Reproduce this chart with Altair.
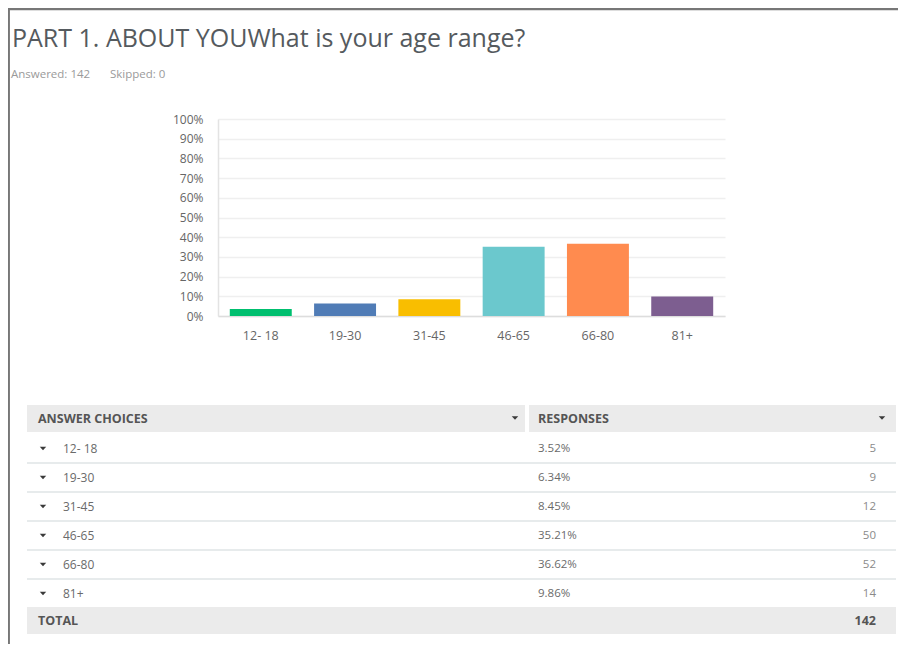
import altair as alt
import pandas as pd

# ---------------- data ----------------
title_text = "PART 1. ABOUT YOUWhat is your age range?"
answered = 142
skipped = 0
ages = ["12- 18", "19-30", "31-45", "46-65", "66-80", "81+"]
percents = [3.52, 6.34, 8.45, 35.21, 36.62, 9.86]
counts = [5, 9, 12, 50, 52, 14]
total = 142
colors = ["#00bf6f", "#507cb6", "#f9be00", "#6bc8cd", "#ff8b4f", "#7d5e90"]
y_ticks = [0, 0.1, 0.2, 0.3, 0.4, 0.5, 0.6, 0.7, 0.8, 0.9, 1.0]
col_headers = ["ANSWER CHOICES", "RESPONSES"]
total_label = "TOTAL"

df = pd.DataFrame({
    "age": ages,
    "pct": [p / 100 for p in percents],
    "count": counts,
    "pct_label": [f"{p:.2f}%" for p in percents],
    "count_label": [str(c) for c in counts],
})

FONT = "Open Sans"
W, H = 890, 636
one = alt.Data(values=[{}])
TRI = "M-1,-0.55L1,-0.55L0,0.55Z"

# ---------------- bar chart ----------------
bars = alt.Chart(df).mark_bar().encode(
    x=alt.X("age:N", sort=ages,
            scale=alt.Scale(range=[210, 717], paddingInner=0.265, paddingOuter=0.14),
            axis=alt.Axis(title=None, labelAngle=0, offset=-(H - 308), domainColor="#dddddd",
                          domainWidth=1.5, ticks=False, labelPadding=13, labelColor="#666666",
                          labelFontSize=12.5, labelFont=FONT)),
    y=alt.Y("pct:Q",
            scale=alt.Scale(domain=[0, 1], range=[308, 111]),
            axis=alt.Axis(title=None, values=y_ticks, format=".0%", offset=-210, ticks=False,
                          domainColor="#e3e3e3", domainWidth=1.5, grid=True, gridColor="#efefef",
                          gridWidth=1.5, labelPadding=15, labelColor="#666666", labelFontSize=12,
                          labelFont=FONT)),
    color=alt.Color("age:N", sort=ages, scale=alt.Scale(domain=ages, range=colors), legend=None),
)

# ---------------- table ----------------
ybase = alt.Y("age:N", sort=ages, scale=alt.Scale(range=[426, 600], paddingInner=0, paddingOuter=0),
              axis=None)
rows = alt.Chart(df)
row_arrows = rows.mark_point(shape=TRI, filled=True, color="#3a3a3a", size=42, opacity=1).encode(
    x=alt.value(35), y=ybase)
row_labels = rows.mark_text(align="left", baseline="middle", font=FONT, fontSize=12,
                            color="#6a6a6a").encode(x=alt.value(55), y=ybase, text="age:N")
row_pcts = rows.mark_text(align="left", baseline="middle", font=FONT, fontSize=11.5,
                          color="#6a6a6a").encode(x=alt.value(530), y=ybase, text="pct_label:N")
row_counts = rows.mark_text(align="right", baseline="middle", font=FONT, fontSize=11.5,
                            color="#8a8a8a").encode(x=alt.value(868), y=ybase, text="count_label:N")
seps = rows.transform_filter(f"datum.age != '{ages[-1]}'").mark_rule(
    color="#dfe4e6", strokeWidth=1.5).encode(
    x=alt.value(19), x2=alt.value(888),
    y=alt.Y("age:N", sort=ages, scale=alt.Scale(range=[426, 600], paddingInner=0, paddingOuter=0),
            axis=None, bandPosition=1))
table = alt.layer(seps, row_arrows, row_labels, row_pcts, row_counts).resolve_scale(y="shared")

# ---------------- decorations ----------------
def rect(x, x2, y, y2, color):
    return alt.Chart(one).mark_rect(color=color).encode(
        x=alt.value(x), x2=alt.value(x2), y=alt.value(y), y2=alt.value(y2))

def text(t, x, y, size, color, weight="normal", align="left", baseline="middle"):
    return alt.Chart(one).mark_text(align=align, baseline=baseline, font=FONT, fontSize=size,
                                    color=color, fontWeight=weight).encode(
        x=alt.value(x), y=alt.value(y), text=alt.value(t))

def arrow(x, y):
    return alt.Chart(one).mark_point(shape=TRI, filled=True, color="#3a3a3a", size=42,
                                     opacity=1).encode(x=alt.value(x), y=alt.value(y))

border_left = alt.Chart(one).mark_rule(color="#555555", strokeWidth=1.5).encode(
    x=alt.value(1), y=alt.value(0), y2=alt.value(H))
border_top = alt.Chart(one).mark_rule(color="#777777", strokeWidth=2.5).encode(
    x=alt.value(0), x2=alt.value(W + 20), y=alt.value(1))

decor = [
    border_left, border_top,
    text(title_text, 4, 39, 25, "#555a5e", baseline="alphabetic"),
    text(f"Answered: {answered}", 3, 67, 11.5, "#9a9a9a"),
    text(f"Skipped: {skipped}", 102, 67, 11.5, "#9a9a9a"),
    rect(19, 517, 397, 424, "#ebebeb"),
    rect(521, 888, 397, 424, "#ebebeb"),
    text(col_headers[0], 30, 411, 12.5, "#555555", weight="bold"),
    text(col_headers[1], 530, 411, 12.5, "#555555", weight="bold"),
    arrow(507, 410), arrow(874, 410),
    rect(19, 888, 599, 626, "#ebebeb"),
    text(total_label, 30, 613, 12.5, "#555555", weight="bold"),
    text(str(total), 868, 613, 12.5, "#555555", weight="bold", align="right"),
]

chart = alt.layer(*decor, bars, table).resolve_scale(y="independent", x="independent").properties(
    width=W, height=H, autosize=alt.AutoSizeParams(type="none"), padding=0,
).configure_view(strokeWidth=0).configure(background="white")

chart.save("out.html", embed_options={"renderer": "svg", "actions": False})
